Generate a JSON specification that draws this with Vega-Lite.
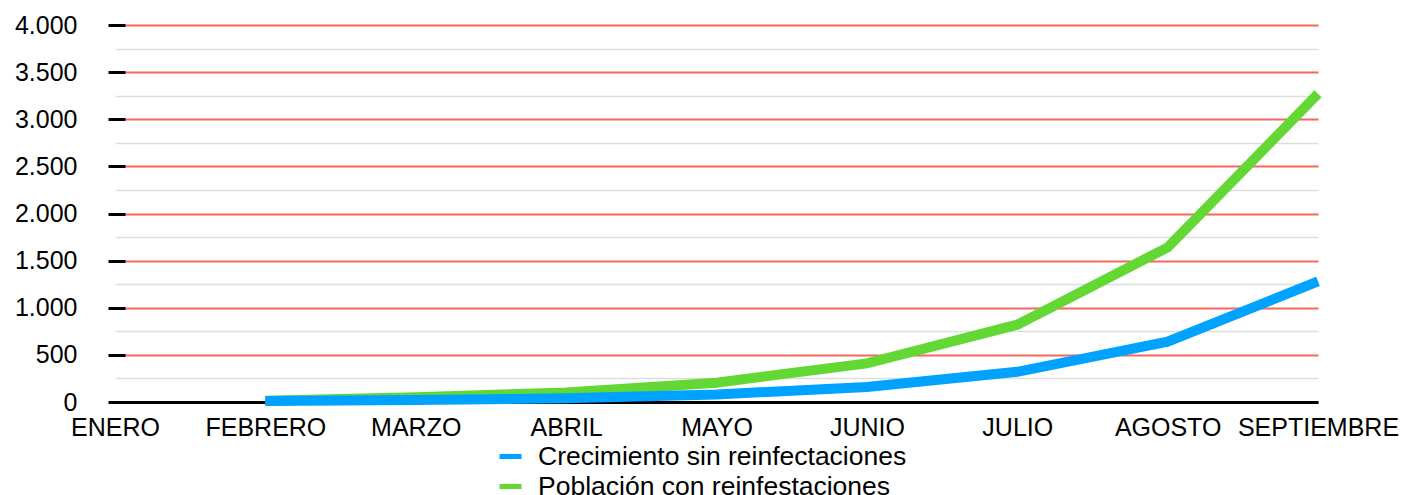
{
  "$schema": "https://vega.github.io/schema/vega-lite/v6.json",
  "width": 1203,
  "height": 377,
  "autosize": "none",
  "padding": {"left": 115, "top": 25, "right": 85, "bottom": 93},
  "background": "white",
  "config": {
    "font": "Liberation Sans",
    "view": {"stroke": null}
  },
  "data": {
    "values": [
      {"mes": "FEBRERO", "serie": "Crecimiento sin reinfectaciones", "valor": 10},
      {"mes": "MARZO", "serie": "Crecimiento sin reinfectaciones", "valor": 20},
      {"mes": "ABRIL", "serie": "Crecimiento sin reinfectaciones", "valor": 40},
      {"mes": "MAYO", "serie": "Crecimiento sin reinfectaciones", "valor": 80},
      {"mes": "JUNIO", "serie": "Crecimiento sin reinfectaciones", "valor": 160},
      {"mes": "JULIO", "serie": "Crecimiento sin reinfectaciones", "valor": 320},
      {"mes": "AGOSTO", "serie": "Crecimiento sin reinfectaciones", "valor": 640},
      {"mes": "SEPTIEMBRE", "serie": "Crecimiento sin reinfectaciones", "valor": 1280},
      {"mes": "FEBRERO", "serie": "Población con reinfestaciones", "valor": 12},
      {"mes": "MARZO", "serie": "Población con reinfestaciones", "valor": 50},
      {"mes": "ABRIL", "serie": "Población con reinfestaciones", "valor": 102},
      {"mes": "MAYO", "serie": "Población con reinfestaciones", "valor": 205},
      {"mes": "JUNIO", "serie": "Población con reinfestaciones", "valor": 410},
      {"mes": "JULIO", "serie": "Población con reinfestaciones", "valor": 820},
      {"mes": "AGOSTO", "serie": "Población con reinfestaciones", "valor": 1640},
      {"mes": "SEPTIEMBRE", "serie": "Población con reinfestaciones", "valor": 3270}
    ]
  },
  "encoding": {
    "x": {
      "field": "mes",
      "type": "ordinal",
      "scale": {"type": "point", "padding": 0, "domain": ["ENERO", "FEBRERO", "MARZO", "ABRIL", "MAYO", "JUNIO", "JULIO", "AGOSTO", "SEPTIEMBRE"]},
      "axis": {
        "title": null,
        "labelAngle": 0,
        "labelFontSize": 25,
        "labelColor": "black",
        "labelPadding": 13,
        "ticks": false,
        "domainColor": "black",
        "domainWidth": 3,
        "grid": false
      }
    },
    "y": {
      "field": "valor",
      "type": "quantitative",
      "scale": {"domain": [0, 4000], "nice": false},
      "axis": {
        "title": null,
        "values": [0, 250, 500, 750, 1000, 1250, 1500, 1750, 2000, 2250, 2500, 2750, 3000, 3250, 3500, 3750, 4000],
        "labelExpr": "datum.value % 500 === 0 ? replace(format(datum.value, ',d'), ',', '.') : ''",
        "labelFontSize": 25,
        "labelColor": "black",
        "labelPadding": 31,
        "domain": false,
        "tickSize": 17,
        "offset": -10,
        "tickWidth": 3,
        "tickColor": {"condition": {"test": "datum.value % 500 === 0", "value": "black"}, "value": "transparent"},
        "grid": true,
        "gridWidth": {"condition": {"test": "datum.value % 500 === 0", "value": 2}, "value": 1.5},
        "gridColor": {"condition": {"test": "datum.value % 500 === 0", "value": "#f4695a"}, "value": "#dddddd"}
      }
    },
    "color": {
      "field": "serie",
      "type": "nominal",
      "scale": {"domain": ["Crecimiento sin reinfectaciones", "Población con reinfestaciones"], "range": ["#00a2ff", "#63d835"]},
      "legend": {
        "title": null,
        "orient": "none",
        "legendX": 382,
        "legendY": 418,
        "direction": "vertical",
        "symbolType": "stroke",
        "symbolSize": 484,
        "symbolStrokeWidth": 5,
        "labelFontSize": 26.5,
        "labelColor": "black",
        "labelOffset": 14,
        "rowPadding": 3,
        "labelLimit": 600
      }
    }
  },
  "layer": [
    {
      "transform": [{"filter": "datum.serie === 'Población con reinfestaciones'"}],
      "mark": {"type": "line", "strokeWidth": 10, "strokeCap": "butt"}
    },
    {
      "transform": [{"filter": "datum.serie === 'Crecimiento sin reinfectaciones'"}],
      "mark": {"type": "line", "strokeWidth": 10, "strokeCap": "butt"}
    }
  ]
}
